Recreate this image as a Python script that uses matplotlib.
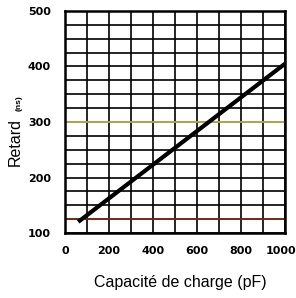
import matplotlib
matplotlib.use("Agg")
import matplotlib.pyplot as plt
import matplotlib.transforms as mtransforms
from matplotlib.ticker import MultipleLocator

# données
capacite = [60, 1000]      # pF
retard = [120, 405]        # ns
xticks = [0, 200, 400, 600, 800, 1000]
yticks = [100, 200, 300, 400, 500]

W, H = 296, 298
fig = plt.figure(figsize=(W / 100, H / 100), dpi=100)
# zone du graphique en pixels : x 65..285, y 11..233
ax = fig.add_axes([65 / W, 1 - 233 / H, 220 / W, 222 / H])

ax.set_xlim(0, 1000)
ax.set_ylim(100, 500)
ax.xaxis.set_minor_locator(MultipleLocator(100))
ax.yaxis.set_minor_locator(MultipleLocator(25))
ax.grid(True, which="both", color="black", lw=1.2)
ax.set_axisbelow(True)

# traits parasites du scan
ax.axhline(125, color="#8b2a1a", lw=1.2, zorder=1.5)
ax.axhline(300, color="#c8c050", lw=1.2, zorder=1.5)

ax.plot(capacite, retard, color="black", lw=3, solid_capstyle="butt", zorder=3)

ax.set_xticks(xticks)
ax.set_yticks(yticks)
tick_font = dict(family=["Liberation Sans Narrow", "DejaVu Sans"], weight="bold", size=8)
ax.set_xticklabels([str(v) for v in xticks], **tick_font)
ax.set_yticklabels([str(v) for v in yticks], **tick_font)
ax.tick_params(which="both", length=0, pad=9)
ax.tick_params(axis="y", pad=10)
# décaler un peu "1000" pour qu'il ne sorte pas de l'image
last = ax.get_xticklabels()[-1]
last.set_transform(last.get_transform() +
                   mtransforms.ScaledTranslation(-4 / 100, 0, fig.dpi_scale_trans))
for s in ax.spines.values():
    s.set_linewidth(1.8)

fig.text(180 / W, 1 - 282 / H, "Capacité de charge (pF)", ha="center", va="center",
         family="Liberation Sans", size=11.5)
fig.text(15 / W, 1 - 142 / H, "Retard", rotation=90, ha="center", va="center",
         family="Liberation Sans", size=11.5)
fig.text(19 / W, 1 - 103 / H, "(ns)", rotation=90, ha="center", va="center",
         family="Liberation Sans", weight="bold", size=6)

fig.savefig("out.png", dpi=100)
